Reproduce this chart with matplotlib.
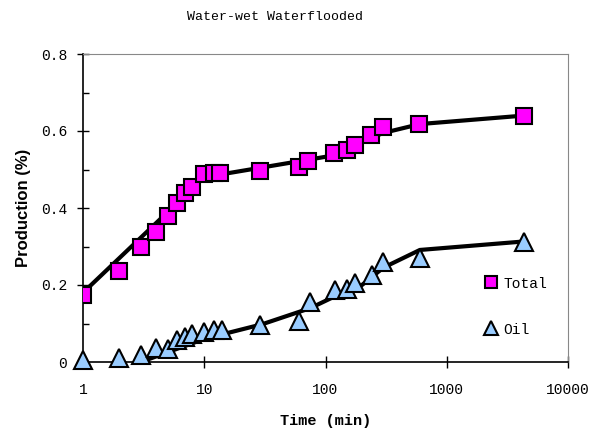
import numpy as np
import matplotlib
matplotlib.use('Agg')
import matplotlib.pyplot as plt
from matplotlib.lines import Line2D
from matplotlib.ticker import FixedLocator, NullLocator

# measured data
t_total = [1, 2, 3, 4, 5, 6, 7, 8, 10, 12, 13.5, 29, 60, 72, 118, 150, 175, 236, 296, 590, 4300]
total = [0.174, 0.236, 0.299, 0.338, 0.379, 0.413, 0.439, 0.455, 0.488, 0.491, 0.491,
         0.496, 0.506, 0.522, 0.543, 0.551, 0.564, 0.590, 0.610, 0.618, 0.639]

t_oil = [1, 2, 3, 4, 5, 6, 7, 8, 10, 12, 14, 29, 60, 75, 120, 150, 175, 240, 300, 600, 4300]
oil = [0.005, 0.01, 0.018, 0.036, 0.034, 0.057, 0.065, 0.073, 0.078, 0.083, 0.083,
       0.096, 0.106, 0.156, 0.187, 0.19, 0.205, 0.226, 0.26, 0.27, 0.312]

# fitted curves
fit_t_total = [1, 10, 100, 300, 600, 4300]
fit_total = [0.18, 0.48, 0.533, 0.595, 0.618, 0.64]
fit_t_oil = [3, 10, 30, 75, 130, 200, 300, 600, 4300]
fit_oil = [0.0, 0.06, 0.098, 0.14, 0.176, 0.2, 0.245, 0.291, 0.313]

mono = 'Liberation Mono'

fig = plt.figure(figsize=(6.1, 4.32), dpi=100)
ax = fig.add_axes([83/610, 70/432, 485/610, 308/432])

ax.plot(fit_t_total, fit_total, color='black', lw=3, zorder=2)
ax.plot(fit_t_oil, fit_oil, color='black', lw=3, zorder=2)
ax.plot(t_total, total, ls='none', marker='s', ms=11.5, mfc='#FF00FF', mec='black', mew=1.5, zorder=3)
ax.plot(t_oil, oil, ls='none', marker='^', ms=13, mfc='#99CCFF', mec='black', mew=1.5, zorder=3,
        clip_on=False)

ax.set_xscale('log')
ax.set_xlim(1, 10000)
ax.set_ylim(0, 0.8)
ax.xaxis.set_major_locator(FixedLocator([1, 10, 100, 1000, 10000]))
ax.xaxis.set_minor_locator(NullLocator())
ax.set_xticklabels(['1', '10', '100', '1000', '10000'])
ax.set_yticks([0, 0.2, 0.4, 0.6, 0.8])
ax.set_yticklabels(['0', '0.2', '0.4', '0.6', '0.8'])
ax.set_yticks([0.1, 0.3, 0.5, 0.7], minor=True)
ax.tick_params(axis='both', which='major', direction='inout', length=9, width=1)
ax.tick_params(axis='x', which='major', pad=10.5)
ax.tick_params(axis='y', which='major', pad=7)
ax.tick_params(axis='y', which='minor', direction='in', length=4, width=1)
for lab in ax.get_xticklabels() + ax.get_yticklabels():
    lab.set_fontfamily(mono)
    lab.set_fontsize(10.5)

ax.spines['top'].set_color('#888888')
ax.spines['right'].set_color('#888888')
ax.spines['left'].set_linewidth(1.2)
ax.spines['bottom'].set_linewidth(1.2)

ax.set_ylabel('Production (%)', fontsize=12, fontweight='bold', fontfamily='Liberation Sans', labelpad=7)
ax.set_xlabel('Time (min)', fontsize=11, fontweight='bold', fontfamily=mono, labelpad=12)
fig.text(275/610, 1 - 17/432, 'Water-wet Waterflooded', ha='center', va='center',
         fontsize=9.5, fontfamily=mono)

handles = [Line2D([], [], ls='none', marker='s', ms=8, mfc='#FF00FF', mec='black', mew=1.5),
           Line2D([], [], ls='none', marker='^', ms=10, mfc='#99CCFF', mec='black', mew=1.5)]
ax.legend(handles, ['Total', 'Oil'], loc='center left', bbox_to_anchor=(0.8, 0.18),
          frameon=False, labelspacing=2.2, handlelength=1, handletextpad=0.3,
          prop={'family': mono, 'size': 10.5})

fig.savefig('out.png', dpi=100)
